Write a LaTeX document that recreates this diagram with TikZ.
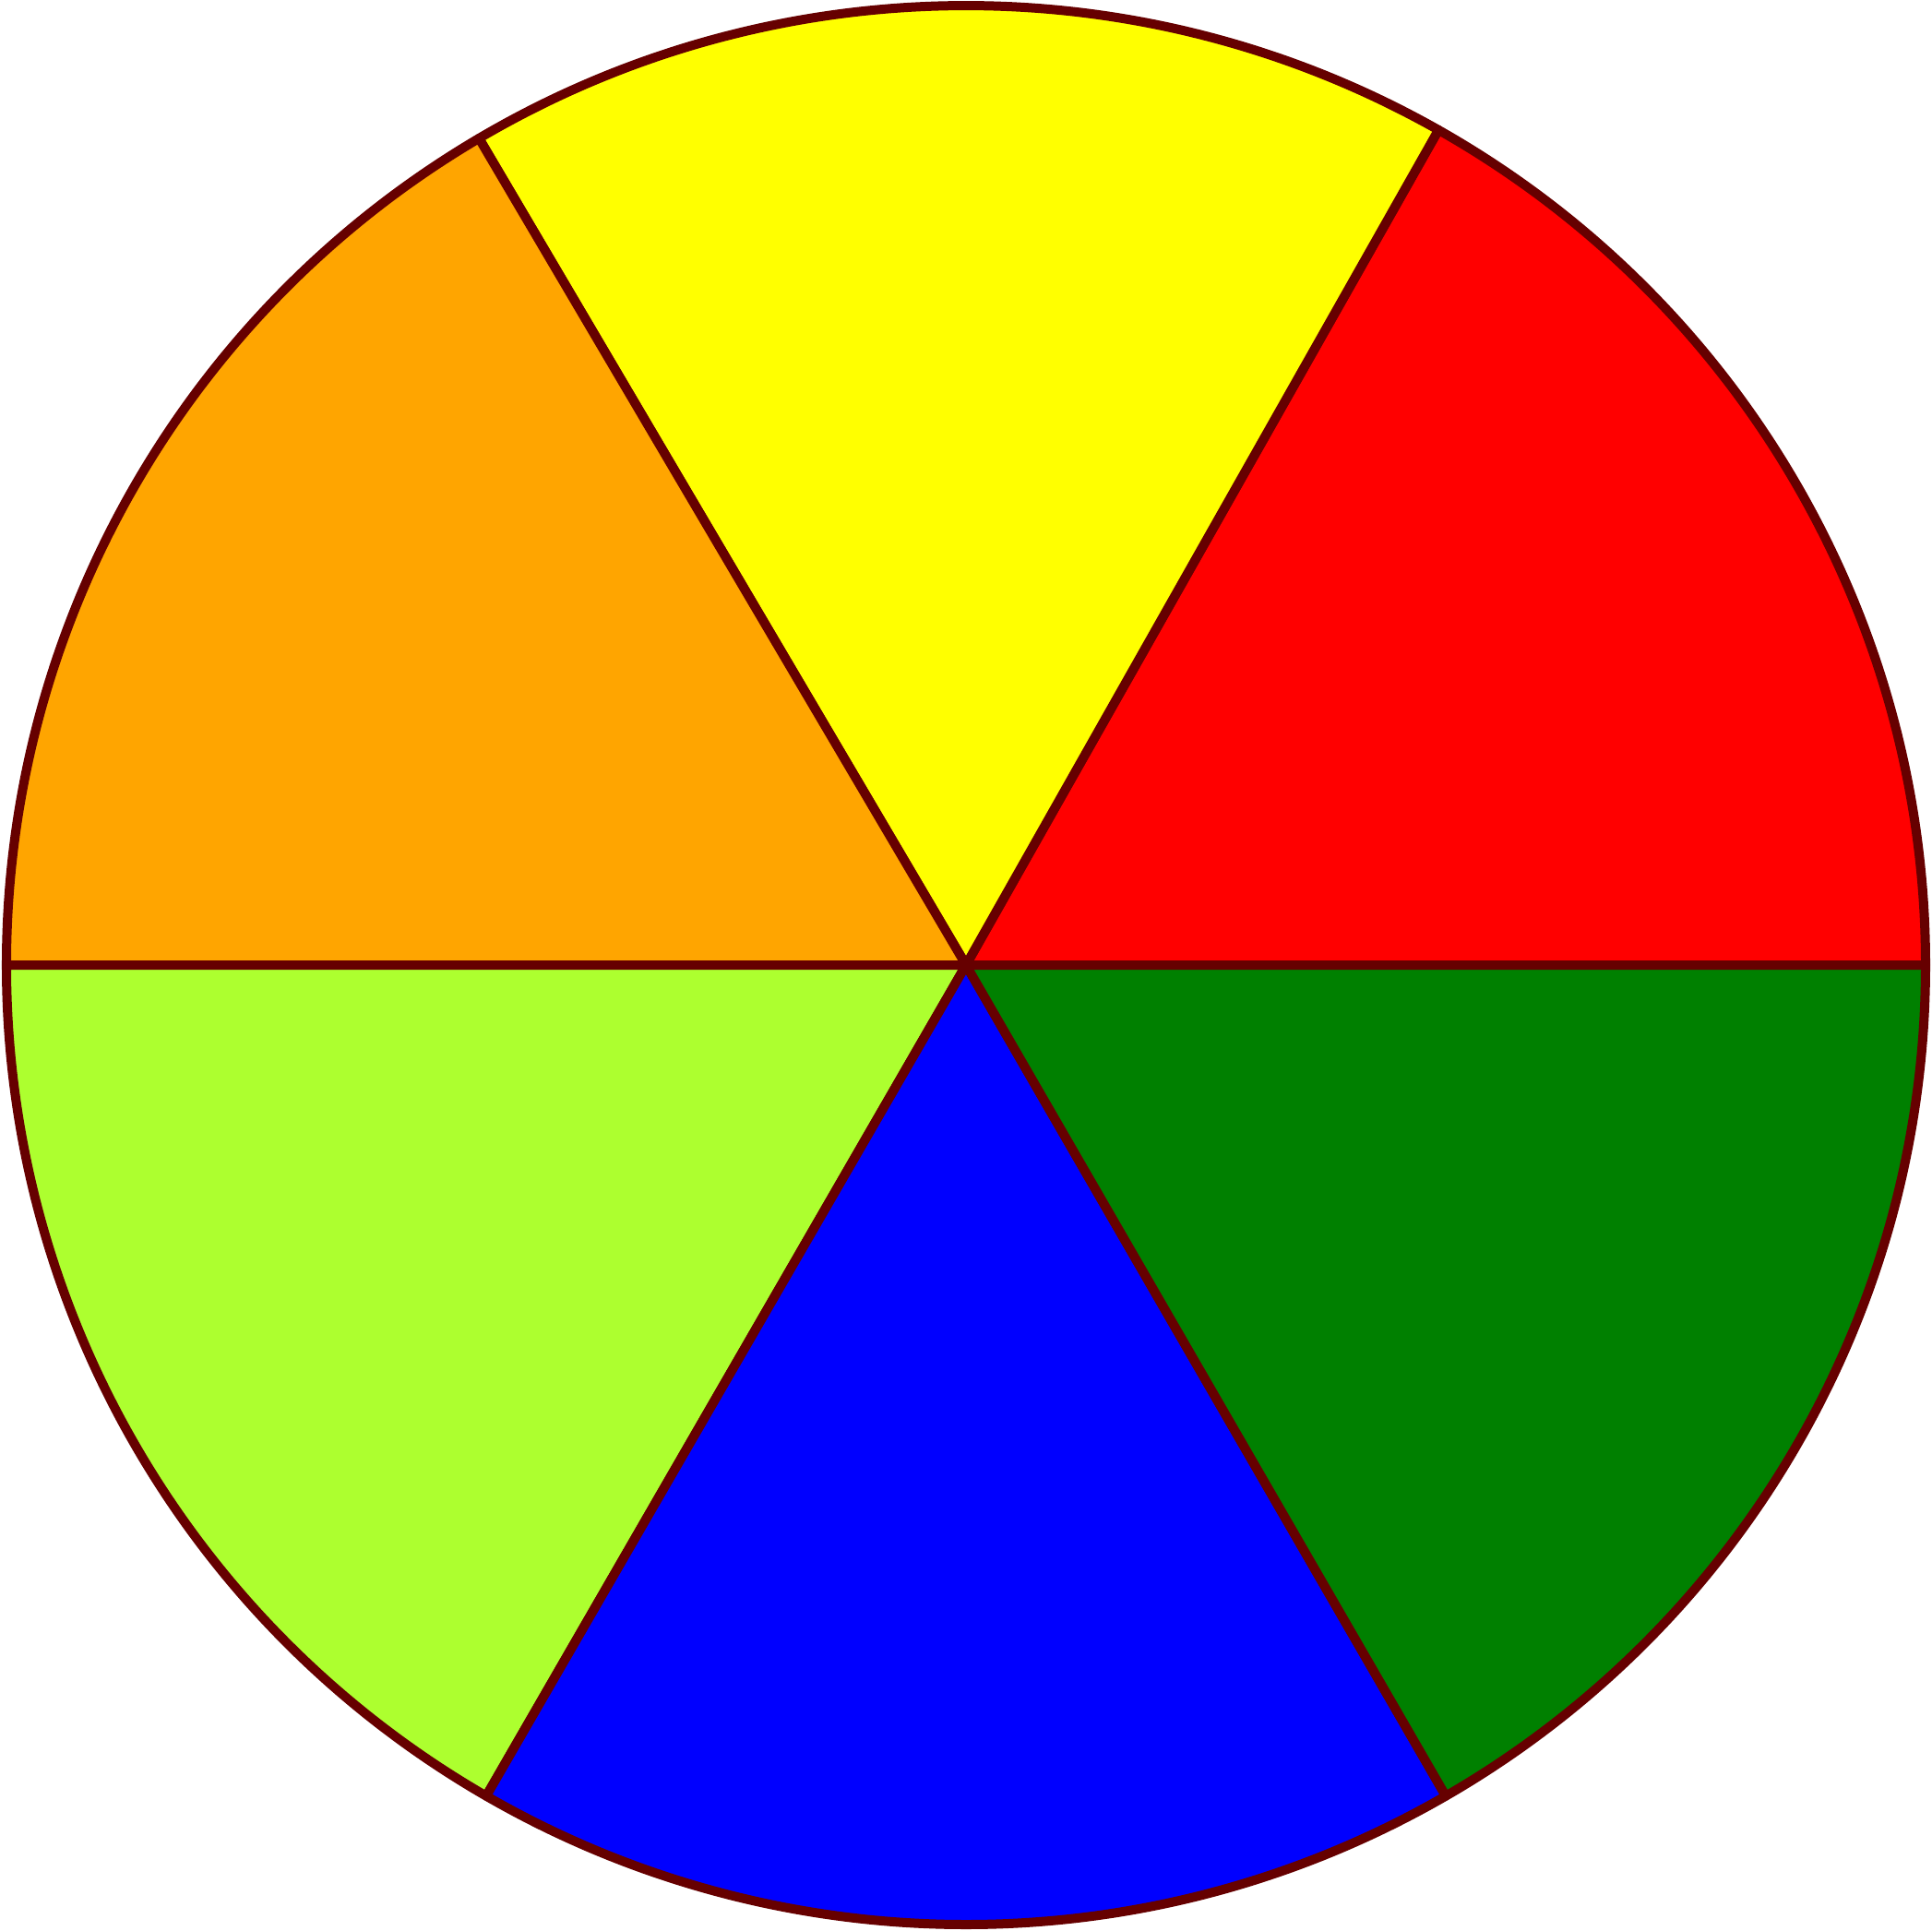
\documentclass[tikz,border=0pt]{standalone}
\usepackage{xcolor}
\usepackage{tikz}
\definecolor{rim}{RGB}{102,0,0}
\definecolor{wheelred}{RGB}{255,0,0}
\definecolor{wheelyellow}{RGB}{255,255,0}
\definecolor{wheelorange}{RGB}{255,165,0}
\definecolor{wheellime}{RGB}{173,255,47}
\definecolor{wheelblue}{RGB}{0,0,255}
\definecolor{wheelgreen}{RGB}{0,128,0}

\begin{document}
\begin{tikzpicture}[
  sector/.style={draw=rim, line width=0.1cm, line join=round}
]
  \useasboundingbox (-10.47,-10.46) rectangle (10.47,10.46);
  \coordinate (hub) at (0,0);

  \filldraw[sector, fill=wheelred]    (hub) -- (0:10.4)     arc[start angle=0,     end angle=60.5,  radius=10.4] -- cycle;
  \filldraw[sector, fill=wheelyellow] (hub) -- (60.5:10.4)  arc[start angle=60.5,  end angle=120.5, radius=10.4] -- cycle;
  \filldraw[sector, fill=wheelorange] (hub) -- (120.5:10.4) arc[start angle=120.5, end angle=180,   radius=10.4] -- cycle;
  \filldraw[sector, fill=wheellime]   (hub) -- (180:10.4)   arc[start angle=180,   end angle=240,   radius=10.4] -- cycle;
  \filldraw[sector, fill=wheelblue]   (hub) -- (240:10.4)   arc[start angle=240,   end angle=300,   radius=10.4] -- cycle;
  \filldraw[sector, fill=wheelgreen]  (hub) -- (300:10.4)   arc[start angle=300,   end angle=360,   radius=10.4] -- cycle;
\end{tikzpicture}
\end{document}
